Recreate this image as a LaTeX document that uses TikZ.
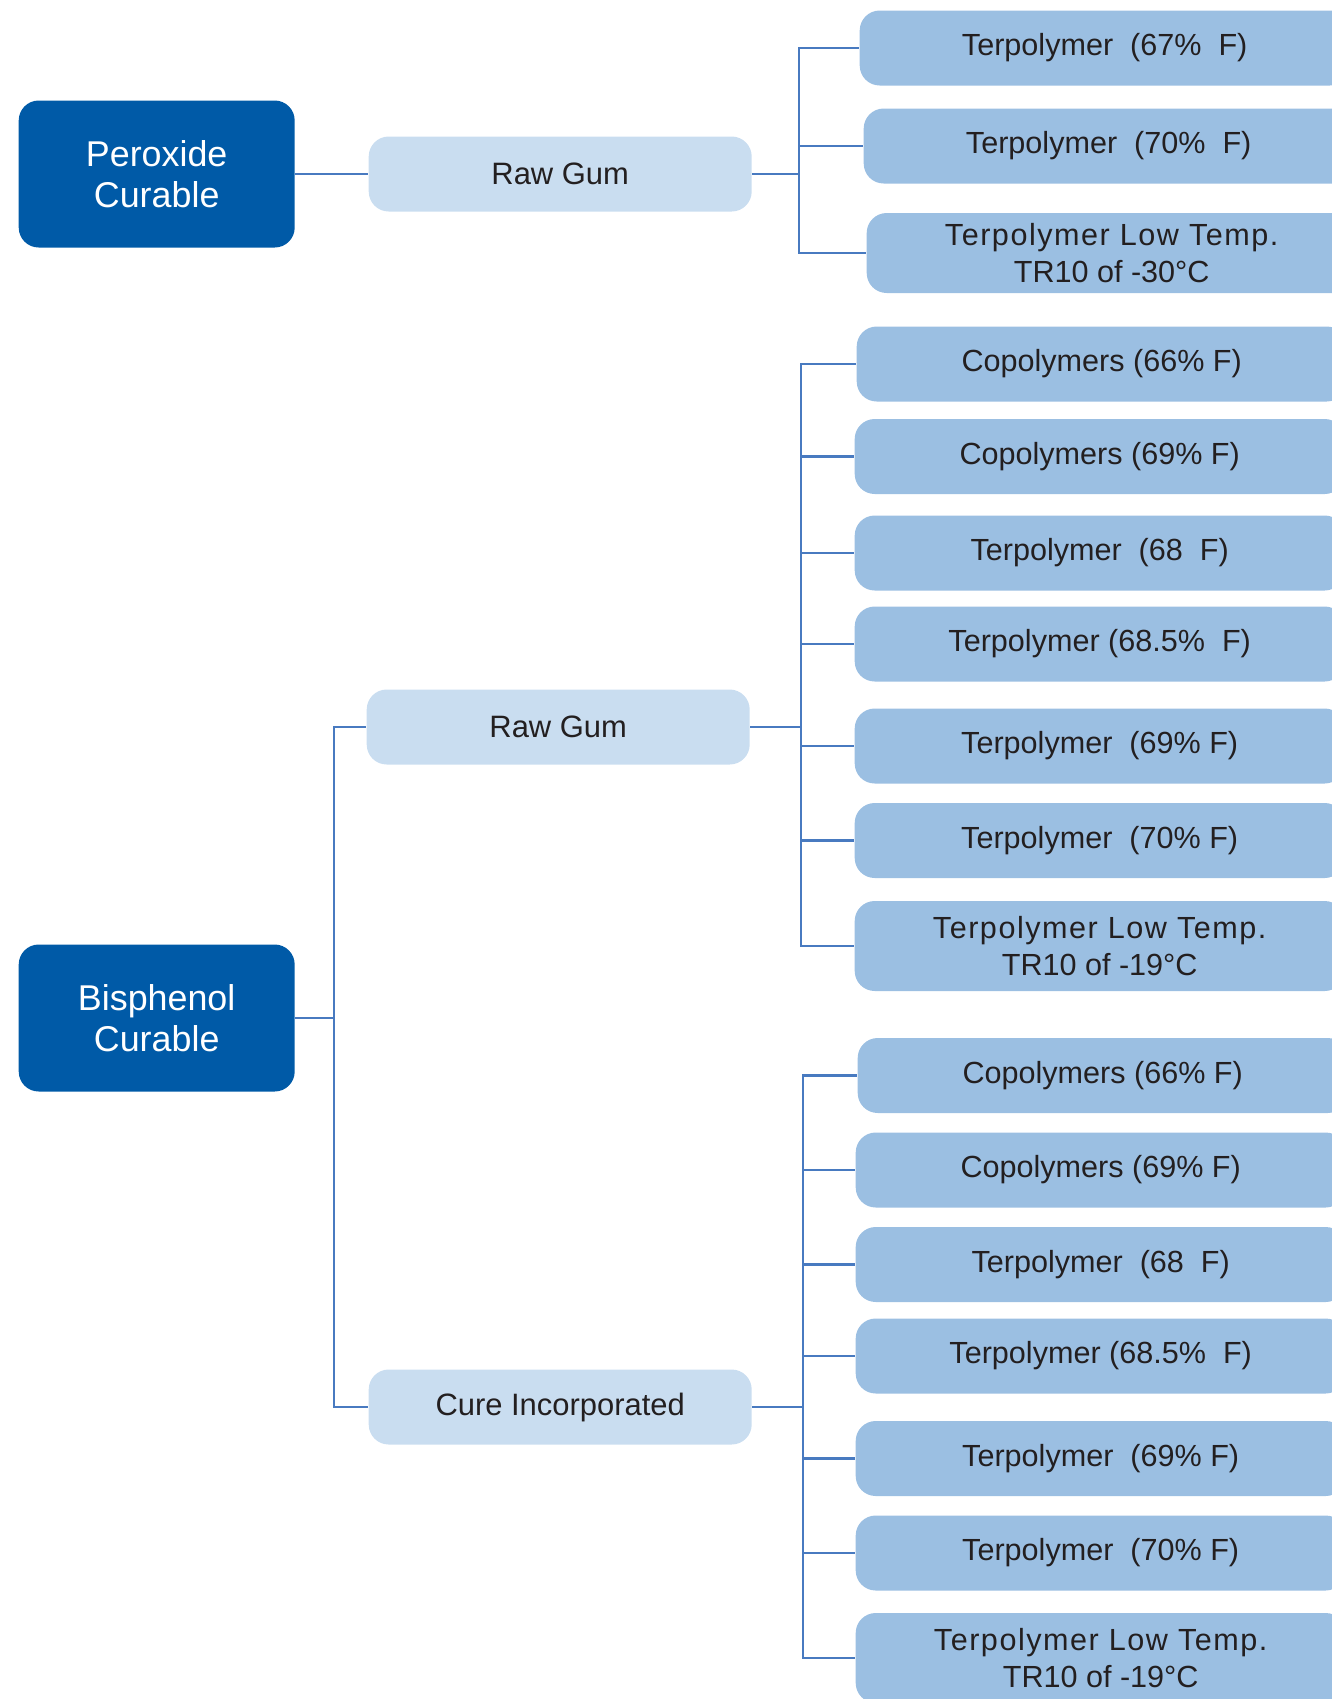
\documentclass[tikz,border=0pt]{standalone}
\usepackage{fontspec}
\setmainfont{Liberation Sans}
\usetikzlibrary{positioning}
\definecolor{rootblue}{RGB}{0,90,167}
\definecolor{midblue}{RGB}{201,221,240}
\definecolor{leafblue}{RGB}{155,191,226}
\definecolor{wireblue}{RGB}{72,122,192}
\definecolor{ink}{RGB}{35,31,32}
\newcommand{\widetext}[1]{{\addfontfeature{LetterSpace=5}#1}}

\begin{document}
\begin{tikzpicture}[inner sep=1pt,
  root/.style={anchor=west,fill=rootblue,text=white,rounded corners=0.2cm,minimum width=2.76cm,minimum height=1.47cm,align=center,font=\fontsize{10.2}{11.6}\selectfont},
  mid/.style={anchor=west,fill=midblue,text=ink,rounded corners=0.2cm,minimum width=3.83cm,minimum height=0.75cm,font=\fontsize{8.8}{10}\selectfont},
  leaf/.style={anchor=west,fill=leafblue,text=ink,rounded corners=0.2cm,minimum width=4.9cm,minimum height=0.75cm,align=center,font=\fontsize{8.7}{10.5}\selectfont},
  wire/.style={draw=wireblue,line width=0.8pt}]
\useasboundingbox (0,0) rectangle (13.32,-16.99);
\clip (0,0) rectangle (13.32,-16.99);
\node[root] (pc) at (0.18,-1.74) {Peroxide\\Curable};
\node[mid] (rg1) at (3.68,-1.74) {Raw Gum};
\node[leaf] (t1) at (8.59,-0.48) {Terpolymer~~(67\%~~F)};
\node[leaf] (t2) at (8.63,-1.46) {Terpolymer~~(70\%~~F)};
\node[leaf,minimum height=0.8cm] (t3) at (8.66,-2.53) {\widetext{Terpolymer Low Temp.}\\TR10 of -30°C};
\coordinate (b1) at (7.99,-1.74);
\draw[wire] (pc) -- (rg1) (rg1) -- (b1);
\foreach \n in {t1,t2,t3} \draw[wire] (b1) |- (\n.west);
\node[root] (bc) at (0.18,-10.18) {Bisphenol\\Curable};
\node[mid] (rg2) at (3.66,-7.27) {Raw Gum};
\node[mid] (ci) at (3.68,-14.07) {Cure Incorporated};
\coordinate (b0) at (3.34,-10.18);
\draw[wire] (bc) -- (b0) (b0) |- (rg2.west) (b0) |- (ci.west);
\node[leaf] (u1) at (8.56,-3.64) {Copolymers~(66\% F)};
\node[leaf] (u2) at (8.54,-4.565) {Copolymers~(69\% F)};
\node[leaf] (u3) at (8.54,-5.53) {Terpolymer~~(68~~F)};
\node[leaf] (u4) at (8.54,-6.44) {Terpolymer~(68.5\%~~F)};
\node[leaf] (u5) at (8.54,-7.46) {Terpolymer~~(69\%~F)};
\node[leaf] (u6) at (8.54,-8.405) {Terpolymer~~(70\%~F)};
\node[leaf,minimum height=0.9cm] (u7) at (8.54,-9.46) {\widetext{Terpolymer Low Temp.}\\TR10 of -19°C};
\coordinate (b2) at (8.01,-7.27);
\draw[wire] (rg2) -- (b2);
\foreach \n in {u1,u2,u3,u4,u5,u6,u7} \draw[wire] (b2) |- (\n.west);
\node[leaf] (v1) at (8.57,-10.755) {Copolymers~(66\% F)};
\node[leaf] (v2) at (8.55,-11.70) {Copolymers~(69\% F)};
\node[leaf] (v3) at (8.55,-12.645) {Terpolymer~~(68~~F)};
\node[leaf] (v4) at (8.55,-13.56) {Terpolymer~(68.5\%~~F)};
\node[leaf] (v5) at (8.55,-14.585) {Terpolymer~~(69\%~F)};
\node[leaf] (v6) at (8.55,-15.53) {Terpolymer~~(70\%~F)};
\node[leaf,minimum height=0.9cm] (v7) at (8.55,-16.58) {\widetext{Terpolymer Low Temp.}\\TR10 of -19°C};
\coordinate (b3) at (8.03,-14.07);
\draw[wire] (ci) -- (b3);
\foreach \n in {v1,v2,v3,v4,v5,v6,v7} \draw[wire] (b3) |- (\n.west);
\end{tikzpicture}
\end{document}
